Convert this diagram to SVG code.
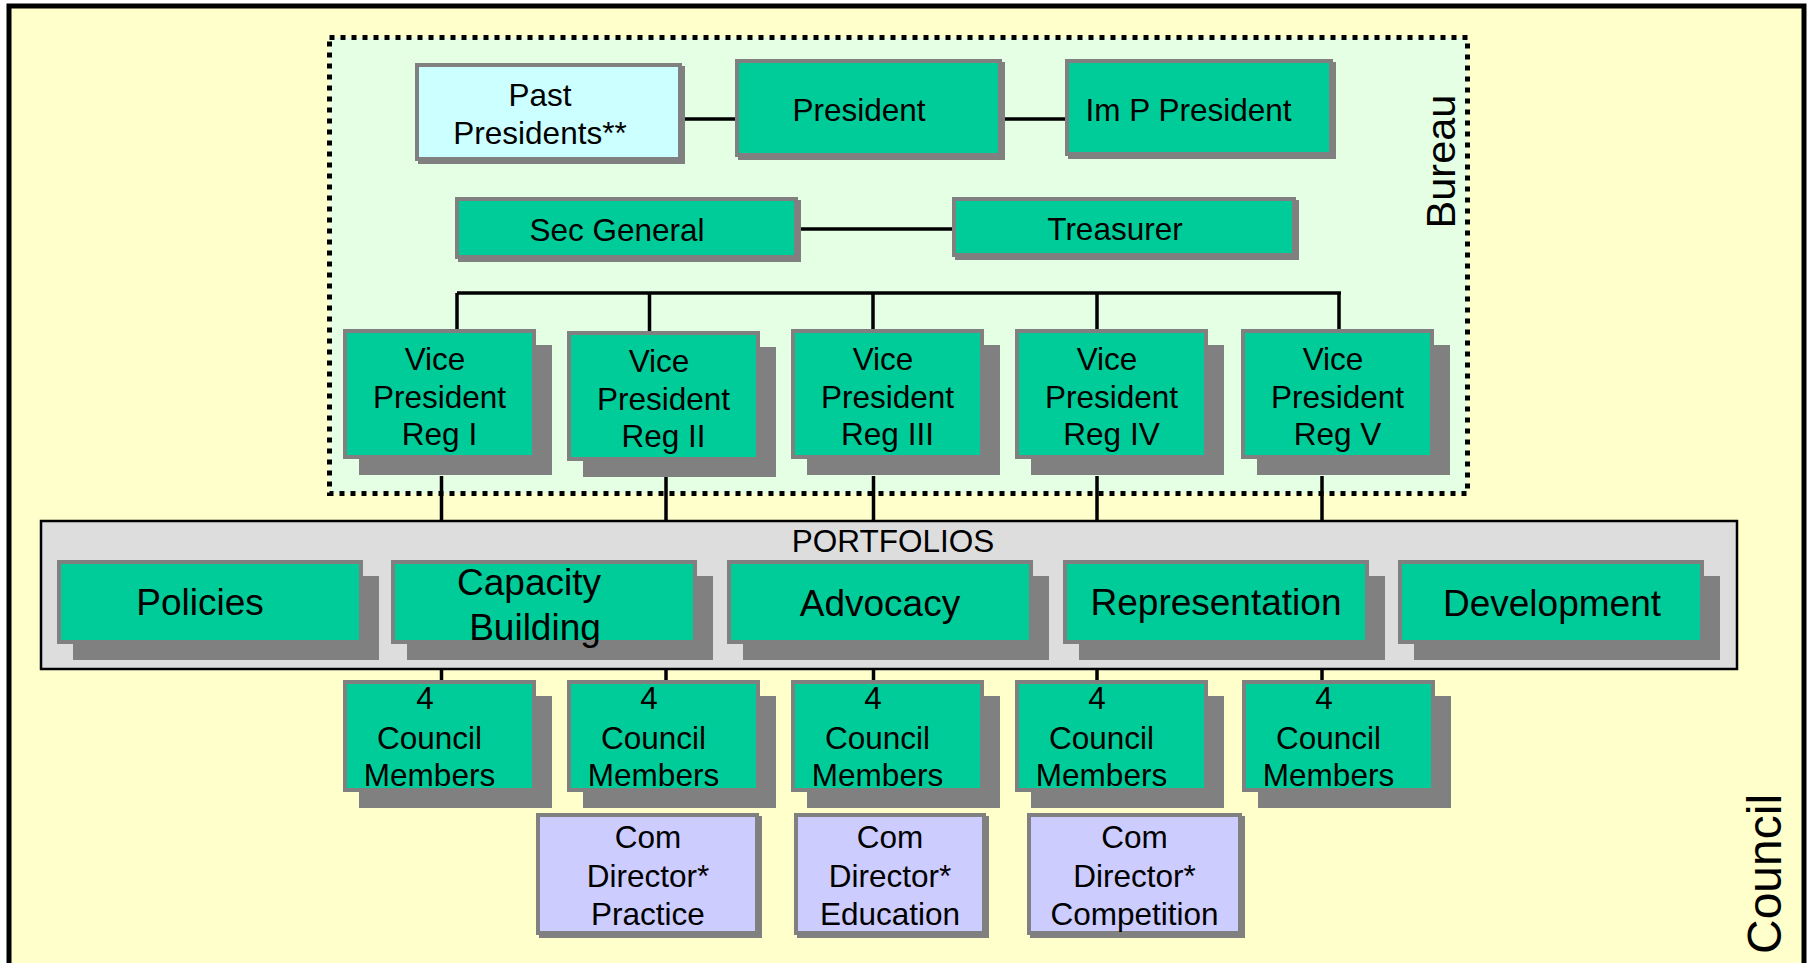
<svg xmlns="http://www.w3.org/2000/svg" width="1808" height="963" viewBox="0 0 1808 963">
<style>
.sh{fill:#808080}
.g{fill:#00CC99}
.cy{fill:#CCFFFF}
.pu{fill:#CCCCFF}
text{font-family:"Liberation Sans",Arial,Helvetica,sans-serif;fill:#000;text-anchor:middle}
.t{font-size:31.5px}
.tl{font-size:37px}
.conn{stroke:#000;stroke-width:3.5;fill:none}
</style>
<rect x="0" y="0" width="1808" height="963" fill="#FFFFFF"/>
<g id="council">
<rect x="9" y="6" width="1795" height="1000" fill="#FFFFCC" stroke="#000" stroke-width="5"/>
<text x="0" y="0" transform="translate(1781,874) rotate(-90)" style="font-size:48px">Council</text>
</g>
<g id="bureau">
<rect x="329.5" y="37.5" width="1138" height="456" fill="#E5FFE5" stroke="#000" stroke-width="5" stroke-dasharray="5 6"/>
<text x="0" y="0" transform="translate(1455,161.5) rotate(-90)" style="font-size:41.5px">Bureau</text>
</g>
<g id="portfolios">
<rect x="41" y="521" width="1696" height="148" fill="#DDDDDD" stroke="#000" stroke-width="2.5"/>
<text class="t" x="893" y="552">PORTFOLIOS</text>
</g>
<g id="connectors" class="conn">
<path d="M685 119H735M1005 119H1065M801 229H952"/>
<path d="M457 293H1341M457 293V329M649.5 293V331M873 293V329M1097 293V329M1339 293V329"/>
<path d="M441.5 476V521M666 476V521M873.5 476V521M1097 476V521M1322 476V521"/>
<path d="M441.5 669V680M666 669V680M873.5 669V680M1097 669V680M1322 669V680"/>
</g>
<g id="past-presidents">
<rect class="sh" x="418" y="66" width="267" height="98"/>
<rect class="sh" x="415" y="63" width="267" height="98"/>
<rect class="cy" x="419" y="67" width="259" height="90"/>
<text class="t" x="540" y="106">Past</text>
<text class="t" x="540" y="144">Presidents**</text>
</g>
<g id="president">
<rect class="sh" x="738" y="62" width="267" height="98"/>
<rect class="sh" x="735" y="59" width="267" height="98"/>
<rect class="g" x="739" y="63" width="259" height="90"/>
<text class="t" x="859" y="121">President</text>
</g>
<g id="im-p-president">
<rect class="sh" x="1068" y="62" width="268" height="97"/>
<rect class="sh" x="1065" y="59" width="268" height="97"/>
<rect class="g" x="1069" y="63" width="260" height="89"/>
<text class="t" x="1188.5" y="120.5">Im P President</text>
</g>
<g id="sec-general">
<rect class="sh" x="458" y="200" width="343" height="62"/>
<rect class="sh" x="455" y="197" width="343" height="62"/>
<rect class="g" x="459" y="201" width="335" height="54"/>
<text class="t" x="617" y="241">Sec General</text>
</g>
<g id="treasurer">
<rect class="sh" x="955" y="200" width="344" height="60"/>
<rect class="sh" x="952" y="197" width="344" height="60"/>
<rect class="g" x="956" y="201" width="336" height="52"/>
<text class="t" x="1115" y="240">Treasurer</text>
</g>
<g id="vp1">
<rect class="sh" x="359" y="345" width="193" height="130"/>
<rect class="sh" x="343" y="329" width="193" height="130"/>
<rect class="g" x="347" y="333" width="185" height="122"/>
<text class="t" x="435" y="370">Vice</text>
<text class="t" x="439.5" y="408">President</text>
<text class="t" x="439.5" y="445">Reg I</text>
</g>
<g id="vp2">
<rect class="sh" x="583" y="347" width="193" height="130"/>
<rect class="sh" x="567" y="331" width="193" height="130"/>
<rect class="g" x="571" y="335" width="185" height="122"/>
<text class="t" x="659" y="372">Vice</text>
<text class="t" x="663.5" y="410">President</text>
<text class="t" x="663.5" y="447">Reg II</text>
</g>
<g id="vp3">
<rect class="sh" x="807" y="345" width="193" height="130"/>
<rect class="sh" x="791" y="329" width="193" height="130"/>
<rect class="g" x="795" y="333" width="185" height="122"/>
<text class="t" x="883" y="370">Vice</text>
<text class="t" x="887.5" y="408">President</text>
<text class="t" x="887.5" y="445">Reg III</text>
</g>
<g id="vp4">
<rect class="sh" x="1031" y="345" width="193" height="130"/>
<rect class="sh" x="1015" y="329" width="193" height="130"/>
<rect class="g" x="1019" y="333" width="185" height="122"/>
<text class="t" x="1107" y="370">Vice</text>
<text class="t" x="1111.5" y="408">President</text>
<text class="t" x="1111.5" y="445">Reg IV</text>
</g>
<g id="vp5">
<rect class="sh" x="1257" y="345" width="193" height="130"/>
<rect class="sh" x="1241" y="329" width="193" height="130"/>
<rect class="g" x="1245" y="333" width="185" height="122"/>
<text class="t" x="1333" y="370">Vice</text>
<text class="t" x="1337.5" y="408">President</text>
<text class="t" x="1337.5" y="445">Reg V</text>
</g>
<g id="policies">
<rect class="sh" x="73" y="576" width="306" height="84"/>
<rect class="sh" x="57" y="560" width="306" height="84"/>
<rect class="g" x="61" y="564" width="298" height="76"/>
<text class="tl" x="200" y="615">Policies</text>
</g>
<g id="capacity-building">
<rect class="sh" x="407" y="576" width="306" height="84"/>
<rect class="sh" x="391" y="560" width="306" height="84"/>
<rect class="g" x="395" y="564" width="298" height="76"/>
<text class="tl" x="529" y="595">Capacity</text>
<text class="tl" x="535" y="640">Building</text>
</g>
<g id="advocacy">
<rect class="sh" x="743" y="576" width="306" height="84"/>
<rect class="sh" x="727" y="560" width="306" height="84"/>
<rect class="g" x="731" y="564" width="298" height="76"/>
<text class="tl" x="880" y="616">Advocacy</text>
</g>
<g id="representation">
<rect class="sh" x="1079" y="576" width="306" height="84"/>
<rect class="sh" x="1063" y="560" width="306" height="84"/>
<rect class="g" x="1067" y="564" width="298" height="76"/>
<text class="tl" x="1216" y="615">Representation</text>
</g>
<g id="development">
<rect class="sh" x="1414" y="576" width="306" height="84"/>
<rect class="sh" x="1398" y="560" width="306" height="84"/>
<rect class="g" x="1402" y="564" width="298" height="76"/>
<text class="tl" x="1552" y="616">Development</text>
</g>
<g id="cm1">
<rect class="sh" x="359" y="696" width="193" height="112"/>
<rect class="sh" x="343" y="680" width="193" height="112"/>
<rect class="g" x="347" y="684" width="185" height="104"/>
<text class="t" x="425" y="709">4</text>
<text class="t" x="429.5" y="749">Council</text>
<text class="t" x="429.5" y="786">Members</text>
</g>
<g id="cm2">
<rect class="sh" x="583" y="696" width="193" height="112"/>
<rect class="sh" x="567" y="680" width="193" height="112"/>
<rect class="g" x="571" y="684" width="185" height="104"/>
<text class="t" x="649" y="709">4</text>
<text class="t" x="653.5" y="749">Council</text>
<text class="t" x="653.5" y="786">Members</text>
</g>
<g id="cm3">
<rect class="sh" x="807" y="696" width="193" height="112"/>
<rect class="sh" x="791" y="680" width="193" height="112"/>
<rect class="g" x="795" y="684" width="185" height="104"/>
<text class="t" x="873" y="709">4</text>
<text class="t" x="877.5" y="749">Council</text>
<text class="t" x="877.5" y="786">Members</text>
</g>
<g id="cm4">
<rect class="sh" x="1031" y="696" width="193" height="112"/>
<rect class="sh" x="1015" y="680" width="193" height="112"/>
<rect class="g" x="1019" y="684" width="185" height="104"/>
<text class="t" x="1097" y="709">4</text>
<text class="t" x="1101.5" y="749">Council</text>
<text class="t" x="1101.5" y="786">Members</text>
</g>
<g id="cm5">
<rect class="sh" x="1258" y="696" width="193" height="112"/>
<rect class="sh" x="1242" y="680" width="193" height="112"/>
<rect class="g" x="1246" y="684" width="185" height="104"/>
<text class="t" x="1324" y="709">4</text>
<text class="t" x="1328.5" y="749">Council</text>
<text class="t" x="1328.5" y="786">Members</text>
</g>
<g id="cd-practice">
<rect class="sh" x="539" y="816" width="223" height="122"/>
<rect class="sh" x="536" y="813" width="223" height="122"/>
<rect class="pu" x="540" y="817" width="215" height="114"/>
<text class="t" x="648" y="848">Com</text>
<text class="t" x="648" y="887">Director*</text>
<text class="t" x="648" y="925">Practice</text>
</g>
<g id="cd-education">
<rect class="sh" x="797" y="816" width="192" height="122"/>
<rect class="sh" x="794" y="813" width="192" height="122"/>
<rect class="pu" x="798" y="817" width="184" height="114"/>
<text class="t" x="890" y="848">Com</text>
<text class="t" x="890" y="887">Director*</text>
<text class="t" x="890" y="925">Education</text>
</g>
<g id="cd-competition">
<rect class="sh" x="1030" y="816" width="215" height="122"/>
<rect class="sh" x="1027" y="813" width="215" height="122"/>
<rect class="pu" x="1031" y="817" width="207" height="114"/>
<text class="t" x="1134.5" y="848">Com</text>
<text class="t" x="1134.5" y="887">Director*</text>
<text class="t" x="1134.5" y="925">Competition</text>
</g>
</svg>
